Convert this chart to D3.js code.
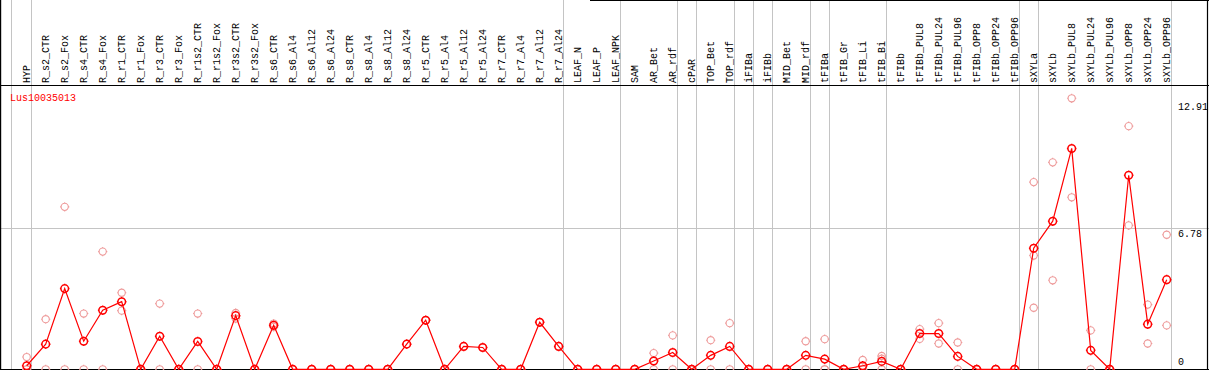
<!DOCTYPE html>
<html>
<head>
<meta charset="utf-8">
<script src="https://cdn.jsdelivr.net/npm/d3@7"></script>
<style>
  body { margin: 0; background: #fff; }
  svg { display: block; }
  text { font-family: "Liberation Mono", "DejaVu Sans Mono", monospace; font-size: 10px; }
</style>
</head>
<body>
<script>
// amostras (colunas)
const samples = ["HYP", "R_s2_CTR", "R_s2_Fox", "R_s4_CTR", "R_s4_Fox", "R_r1_CTR", "R_r1_Fox",
  "R_r3_CTR", "R_r3_Fox", "R_r1s2_CTR", "R_r1s2_Fox", "R_r3s2_CTR", "R_r3s2_Fox", "R_s6_CTR",
  "R_s6_Al4", "R_s6_Al12", "R_s6_Al24", "R_s8_CTR", "R_s8_Al4", "R_s8_Al12", "R_s8_Al24",
  "R_r5_CTR", "R_r5_Al4", "R_r5_Al12", "R_r5_Al24", "R_r7_CTR", "R_r7_Al4", "R_r7_Al12",
  "R_r7_Al24", "LEAF_N", "LEAF_P", "LEAF_NPK", "SAM", "AR_Bet", "AR_rdf", "cPAR", "TOP_Bet",
  "TOP_rdf", "iFIBa", "iFIBb", "MID_Bet", "MID_rdf", "tFIBa", "tFIB_Gr", "tFIB_Li", "tFIB_Bi",
  "tFIBb", "tFIBb_PUL8", "tFIBb_PUL24", "tFIBb_PUL96", "tFIBb_OPP8", "tFIBb_OPP24", "tFIBb_OPP96",
  "sXYLa", "sXYLb", "sXYLb_PUL8", "sXYLb_PUL24", "sXYLb_PUL96", "sXYLb_OPP8", "sXYLb_OPP24",
  "sXYLb_OPP96"];

// ultima amostra de cada grupo (linha cinzenta a seguir)
const groupEnds = ["HYP", "R_r7_Al24", "LEAF_NPK", "AR_rdf", "cPAR", "TOP_rdf", "iFIBa", "iFIBb",
  "MID_rdf", "tFIBa", "tFIB_Bi", "tFIBb_OPP96", "sXYLa", "sXYLb_OPP96"];

const geneName = "Lus10035013";

// media
const meanValues = [0.17, 1.21, 3.88, 1.35, 2.84, 3.25, 0, 1.59, 0, 1.34, 0, 2.58, 0, 2.12,
  0, 0, 0, 0, 0, 0, 1.21, 2.36, 0, 1.10, 1.05, 0, 0, 2.26, 1.10, 0, 0, 0, 0, 0.40, 0.81, 0,
  0.67, 1.10, 0, 0, 0, 0.67, 0.49, 0, 0.17, 0.38, 0, 1.72, 1.72, 0.62, 0, 0, 0,
  5.82, 7.12, 10.62, 0.91, 0, 9.33, 2.17, 4.31];

// replicas
const rep1 = [0.59, 2.41, 7.81, 2.68, 5.66, 3.68, 0, 3.16, 0, 2.68, 0, 2.71, 0, 2.20,
  0, 0, 0, 0, 0, 0, 1.21, 2.36, 0, 1.10, 1.05, 0, 0, 2.26, 1.10, 0, 0, 0, 0, 0.78, 1.63, 0,
  1.40, 2.22, 0, 0, 0, 1.35, 1.45, 0, 0.45, 0.64, 0, 1.93, 2.22, 1.29, 0, 0, 0,
  9.00, 9.95, 13.03, 1.87, 0, 11.69, 3.11, 6.47];
const rep2 = [0, 0, 0, 0, 0, 2.82, 0, 0, 0, 0, 0, 2.44, 0, 2.04,
  0, 0, 0, 0, 0, 0, null, null, 0, null, null, 0, 0, null, null, 0, 0, 0, 0, 0, 0, 0,
  0, 0, 0, 0, 0, 0, 0, 0, 0, 0.51, 0, 1.46, 1.24, 0, 0, 0, 0,
  5.47, 4.28, 8.27, 0, 0, 6.92, 1.24, 2.11];
const rep3 = [0, null, null, null, null, null, null, null, null, null, null, null, null, null,
  null, null, null, null, null, null, null, null, null, null, null, null, null, null, null,
  null, null, null, null, null, null, null, null, null, null, null, null, null, 0, null, 0, 0,
  null, null, null, null, null, null, null, 2.96, null, null, null, null, null, null, null];

const yTicks = [0, 6.78, 12.91];

//=============================
//  Atributos gerais
//=============================
const width = 1209, height = 370;
const headerBottom = 85.5;
const plotBottom = 369.3;

const svg = d3.select("body")
  .append("svg")
  .attr("width", width)
  .attr("height", height);

const x = d3.scalePoint()
  .domain(samples)
  .range([26.7, 1166.7]);

const y = d3.scaleLinear()
  .domain([0, 12.91])
  .range([plotBottom, 100.8]);

//============grelha============
svg.append("line")
  .attr("x1", 0).attr("x2", width)
  .attr("y1", Math.round(y(6.78)) + 0.5).attr("y2", Math.round(y(6.78)) + 0.5)
  .attr("stroke", "#c4c4c4");

const vLines = [x(samples[0]) - 16].concat(groupEnds.map((s) => x(s) + 4));
svg.selectAll(".vline")
  .data(vLines)
  .join("line")
  .attr("x1", (d) => Math.round(d) + 0.5)
  .attr("x2", (d) => Math.round(d) + 0.5)
  .attr("y1", 0)
  .attr("y2", plotBottom)
  .attr("stroke", "#c4c4c4");

//============moldura============
const frame = svg.append("g").attr("stroke", "#000").attr("stroke-width", 1.2);
frame.append("line").attr("x1", 0).attr("x2", width).attr("y1", headerBottom).attr("y2", headerBottom);
frame.append("line").attr("x1", 590).attr("x2", width).attr("y1", 0.5).attr("y2", 0.5);
frame.append("line").attr("x1", 0.6).attr("x2", 0.6).attr("y1", 0).attr("y2", height);
frame.append("line").attr("x1", 1207.5).attr("x2", 1207.5).attr("y1", 0).attr("y2", height);
frame.append("line").attr("x1", 0).attr("x2", width).attr("y1", 369.5).attr("y2", 369.5);

//============nomes das amostras============
svg.selectAll(".sample")
  .data(samples)
  .join("text")
  .attr("transform", (d) => `translate(${x(d) + 3.5}, 83) rotate(-90)`)
  .attr("fill", "#000")
  .text((d) => d);

// nome do gene
svg.append("text")
  .attr("x", 10)
  .attr("y", 101)
  .attr("fill", "#ff0000")
  .text(geneName);

// valores do eixo (lado direito)
svg.selectAll(".ytick")
  .data(yTicks)
  .join("text")
  .attr("x", 1178)
  .attr("y", (d) => Math.min(y(d) + 9, plotBottom - 4))
  .attr("fill", "#000")
  .text((d) => d);

//============marcador (circulo com ticks)============
function marker(r) {
  const p = d3.path();
  p.moveTo(r, 0);
  p.arc(0, 0, r, 0, Math.PI * 2);
  [[1, 0], [-1, 0], [0, 1], [0, -1]].forEach(([a, b]) => {
    p.moveTo(a * r, b * r);
    p.lineTo(a * (r + 1), b * (r + 1));
  });
  return p.toString();
}

// replicas
const reps = [];
samples.forEach((s, i) => {
  [rep1[i], rep2[i], rep3[i]].forEach((v) => {
    if (v !== null) reps.push({ sample: s, value: v });
  });
});

svg.selectAll(".rep")
  .data(reps)
  .join("path")
  .attr("d", marker(3.6))
  .attr("transform", (d) => `translate(${x(d.sample)}, ${y(d.value)})`)
  .attr("fill", "none")
  .attr("stroke", "#ee9a9a")
  .attr("stroke-width", 1.1);

//============linha da media============
const meanData = samples.map((s, i) => ({ sample: s, value: meanValues[i] }));

svg.append("path")
  .datum(meanData)
  .attr("fill", "none")
  .attr("stroke", "#ff0000")
  .attr("stroke-width", 1.2)
  .attr("d", d3.line().x((d) => x(d.sample)).y((d) => y(d.value)));

svg.selectAll(".mean")
  .data(meanData)
  .join("path")
  .attr("d", marker(3.8))
  .attr("transform", (d) => `translate(${x(d.sample)}, ${y(d.value)})`)
  .attr("fill", "none")
  .attr("stroke", "#ff0000")
  .attr("stroke-width", 1.5);
</script>
</body>
</html>
